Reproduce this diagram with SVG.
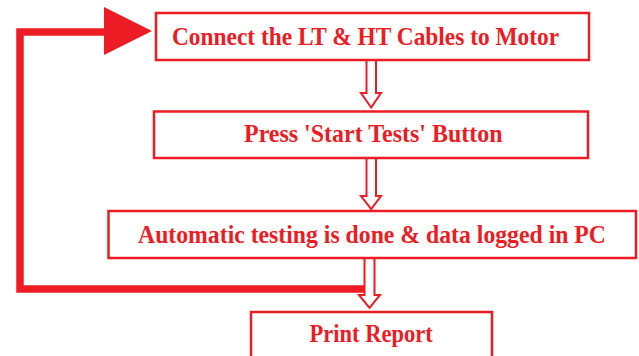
<svg xmlns="http://www.w3.org/2000/svg" width="639" height="356" viewBox="0 0 639 356">
<style>
.box{fill:#fff;stroke:#ed1c24;stroke-width:2.5}
.lbl{font-family:"Liberation Serif","Times New Roman",serif;font-weight:bold;font-size:25px;fill:#ed1c24}
.harrow{fill:#fff;stroke:#ed1c24;stroke-width:2}
.loop{fill:none;stroke:#ed1c24;stroke-width:7.5}
</style>
<rect width="639" height="356" fill="#fff"/>
<g id="connectors">
<polyline class="loop" points="364,289 20,289 20,32 106,32"/>
<polygon points="104,7 152,31 104,55" fill="#ed1c24"/>
<polygon class="harrow" points="366.5,56 376,56 376,93 381,93 371.2,107.5 361,93 366.5,93"/>
<polygon class="harrow" points="366.5,158 376,158 376,196 381,196 371.2,209 361,196 366.5,196"/>
<polygon class="harrow" points="364.5,258 374.5,258 374.5,295 380,295 369.5,308 359,295 364.5,295"/>
</g>
<g id="node1">
<rect class="box" x="156" y="13" width="433" height="47"/>
<text class="lbl" x="172" y="45" textLength="387" lengthAdjust="spacingAndGlyphs">Connect the LT &amp; HT Cables to Motor</text>
</g>
<g id="node2">
<rect class="box" x="154" y="111.5" width="434" height="46.5"/>
<text class="lbl" x="244" y="142" textLength="258.5" lengthAdjust="spacingAndGlyphs">Press 'Start Tests' Button</text>
</g>
<g id="node3">
<rect class="box" x="108.5" y="211" width="527.5" height="47"/>
<text class="lbl" x="138" y="243" textLength="468" lengthAdjust="spacingAndGlyphs">Automatic testing is done &amp; data logged in PC</text>
</g>
<g id="node4">
<rect class="box" x="251" y="312" width="241" height="50"/>
<text class="lbl" x="309.5" y="342" textLength="123.3" lengthAdjust="spacingAndGlyphs">Print Report</text>
</g>
</svg>
